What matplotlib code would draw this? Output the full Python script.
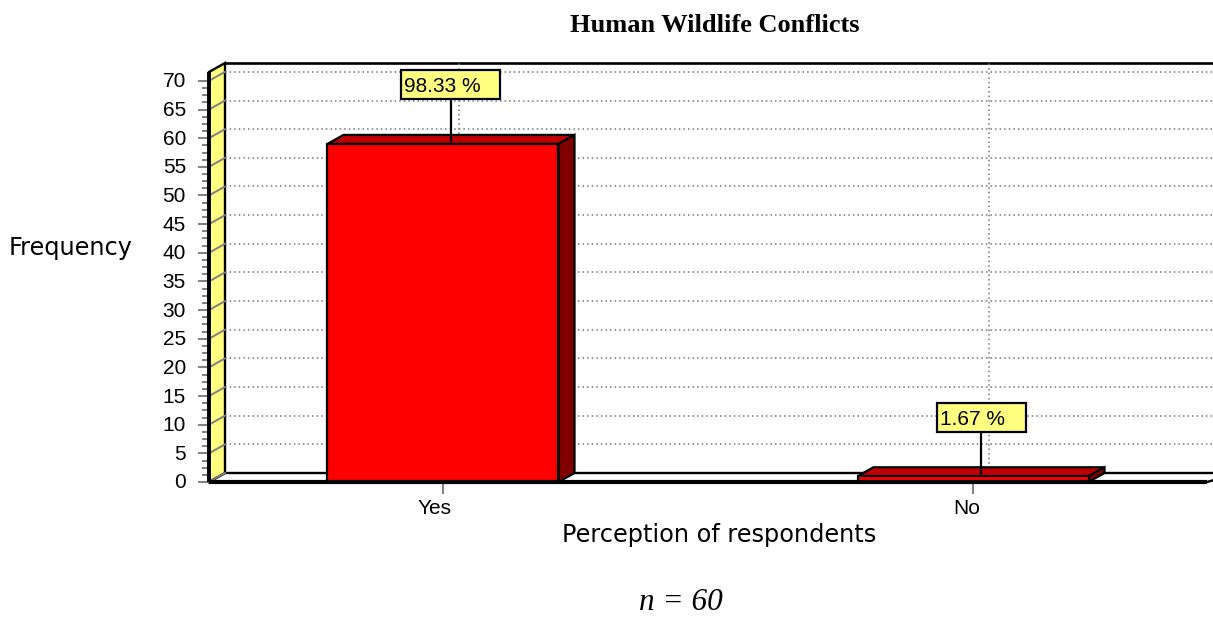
import matplotlib
matplotlib.use("Agg")
import matplotlib.pyplot as plt
import numpy as np
from matplotlib.patches import Polygon, Rectangle

# ---- data ----
categories = ["Yes", "No"]
frequency = [59, 1]
percent_labels = ["98.33 %", "1.67 %"]
y_major = list(range(0, 75, 5))

# ---- layout, all in pixels of the 1213x619 picture ----
W, H = 1213, 619
AX_L, AX_R, AX_T, AX_B = 209, 1207, 72, 482
PX_X = 1 / 530          # one pixel in x data units
PX_Y = 71.55 / (AX_B - AX_T)
DX = 16 * PX_X          # 3d depth
DY = 9 * PX_Y
BAR_W = 231 * PX_X
BOX_W = [99, 89]
BOX_H = 29
STEM = [42, 41]
YELLOW = "#ffff80"

fig = plt.figure(figsize=(W / 100, H / 100), dpi=100)
ax = fig.add_axes([AX_L / W, 1 - AX_B / H, (AX_R - AX_L) / W, (AX_B - AX_T) / H])
ax.set_xlim(-0.4415, 1.4415)
ax.set_ylim(0, 71.55)
ax.axis("off")

x0, x1 = ax.get_xlim()
y1 = ax.get_ylim()[1]
far = x1 + 2 * DX

# floor and back wall
ax.add_patch(Polygon([(x0, 0), (x0 + DX, DY), (far, DY), (x1, 0)], fc="white", ec="black",
                     lw=1.7, zorder=1, clip_on=False))
ax.plot([x0 + DX, far], [y1 + DY, y1 + DY], color="black", lw=1.9, zorder=1, clip_on=False)

# gridlines on the back wall
for v in y_major[1:]:
    ax.plot([x0 + DX, far], [v + DY, v + DY], color="#777777", lw=1.1, ls=(0, (1, 2)), zorder=1, clip_on=False)
for i in range(len(categories)):
    ax.plot([i + DX, i + DX], [DY, y1 + DY], color="#777777", lw=1.1, ls=(0, (1, 2)), zorder=1, clip_on=False)

# yellow side wall
ax.add_patch(Polygon([(x0, 0), (x0 + DX, DY), (x0 + DX, y1 + DY), (x0, y1)], fc=YELLOW, ec="black",
                     lw=1.7, zorder=2, clip_on=False))
for v in y_major:
    ax.plot([x0, x0 + DX], [v, v + DY], color="#808080", lw=1.4, zorder=2, clip_on=False)
    ax.plot([x0 - 10 * PX_X, x0], [v, v], color="#808080", lw=1.4, zorder=2, clip_on=False)
    ax.text(x0 - 23 * PX_X, v - PX_Y, str(v), ha="right", va="center", fontsize=15,
            family="Liberation Sans", color="black")
for v in np.arange(0, 70, 1.25):
    if v % 5:
        ax.plot([x0 - 6 * PX_X, x0], [v, v], color="#808080", lw=1.4, zorder=2, clip_on=False)

# bars
for i, v in enumerate(frequency):
    left = i - BAR_W / 2
    right = i + BAR_W / 2
    ax.add_patch(Polygon([(left, v), (left + DX, v + DY), (right + DX, v + DY), (right, v)],
                         fc="#c00000", ec="black", lw=1.6, zorder=3))
    ax.add_patch(Polygon([(right, 0), (right + DX, DY), (right + DX, v + DY), (right, v)],
                         fc="#800000", ec="black", lw=1.6, zorder=3))
    ax.add_patch(Rectangle((left, 0), BAR_W, v, fc="#ff0000", ec="black", lw=1.6, zorder=4))

# heavy front axes
ax.plot([x0, x1], [0, 0], color="black", lw=3, zorder=5, clip_on=False, solid_capstyle="butt")
ax.plot([x0, x0], [0, y1], color="black", lw=2.8, zorder=5, clip_on=False, solid_capstyle="butt")

# category ticks and labels
for i, name in enumerate(categories):
    ax.plot([i, i], [0, -11 * PX_Y], color="#808080", lw=1.4, zorder=4, clip_on=False)
    off = [-8, -6][i] * PX_X
    ax.text(i + off, -26.5 * PX_Y, name, ha="center", va="center", fontsize=15,
            family="Liberation Sans", color="black", zorder=6)

# percentage callouts
for i, v in enumerate(frequency):
    tip_x = i + DX / 2
    tip_y = v + 3 * PX_Y
    box_y = tip_y + STEM[i] * PX_Y
    box_x = tip_x - BOX_W[i] / 2 * PX_X
    ax.plot([tip_x, tip_x], [tip_y, box_y], color="black", lw=1.6, zorder=6, clip_on=False)
    ax.add_patch(Rectangle((box_x, box_y), BOX_W[i] * PX_X, BOX_H * PX_Y, fc=YELLOW, ec="black",
                           lw=1.6, zorder=7, clip_on=False))
    ax.text(box_x + 3 * PX_X, box_y + (BOX_H / 2 - 2) * PX_Y, percent_labels[i], ha="left", va="center",
            fontsize=15, family="Liberation Sans", color="black", zorder=8)

# titles
fig.text(715 / W, 1 - 25.5 / H, "Human Wildlife Conflicts", ha="center", va="center", fontsize=19,
         family="Liberation Serif", weight="bold")
fig.text(71 / W, 1 - 248 / H, "Frequency", ha="center", va="center", fontsize=17.3, family="DejaVu Sans")
fig.text(719 / W, 1 - 535 / H, "Perception of respondents", ha="center", va="center", fontsize=17.3,
         family="DejaVu Sans")
fig.text(681 / W, 1 - 603 / H, "n = 60", ha="center", va="center", fontsize=22.5, style="italic",
         family="Liberation Serif")

fig.savefig("out.png", dpi=100)
